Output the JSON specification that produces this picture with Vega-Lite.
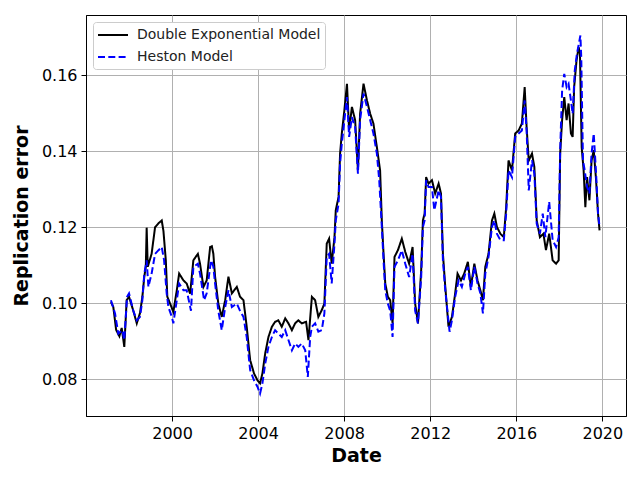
{
  "$schema": "https://vega.github.io/schema/vega-lite/v6.json",
  "background": "white",
  "autosize": {"type": "none"},
  "padding": {"left": 86, "top": 15, "right": 14, "bottom": 64},
  "width": 540,
  "height": 401,
  "config": {
    "font": "DejaVu Sans",
    "view": {"stroke": "black", "strokeWidth": 1},
    "axis": {
      "grid": true, "gridColor": "#b0b0b0", "gridWidth": 1,
      "domainColor": "black", "tickColor": "black", "tickSize": 5,
      "labelFont": "DejaVu Sans", "labelFontSize": 16, "labelColor": "black",
      "titleFont": "DejaVu Sans", "titleFontSize": 19, "titleFontWeight": "bold", "titleColor": "black"
    },
    "legend": {
      "title": null,
      "orient": "top-left",
      "offset": 7,
      "padding": 4.5,
      "fillColor": "white",
      "strokeColor": "#cccccc",
      "cornerRadius": 3,
      "symbolType": "M-2,0H2",
      "symbolSize": 225,
      "symbolStrokeWidth": 2,
      "symbolOffset": 7,
      "labelFontSize": 14,
      "labelFont": "DejaVu Sans",
      "labelColor": "#222222",
      "labelOffset": 15.5,
      "labelLimit": 0,
      "rowPadding": 6
    }
  },
  "data": {
    "values": [
      {"year": 1997.16, "value": 0.1003, "model": "Double Exponential Model"},
      {"year": 1997.27, "value": 0.099, "model": "Double Exponential Model"},
      {"year": 1997.4, "value": 0.093, "model": "Double Exponential Model"},
      {"year": 1997.55, "value": 0.0913, "model": "Double Exponential Model"},
      {"year": 1997.66, "value": 0.0935, "model": "Double Exponential Model"},
      {"year": 1997.78, "value": 0.0885, "model": "Double Exponential Model"},
      {"year": 1997.89, "value": 0.1008, "model": "Double Exponential Model"},
      {"year": 1998.0, "value": 0.1017, "model": "Double Exponential Model"},
      {"year": 1998.2, "value": 0.098, "model": "Double Exponential Model"},
      {"year": 1998.36, "value": 0.0947, "model": "Double Exponential Model"},
      {"year": 1998.51, "value": 0.0974, "model": "Double Exponential Model"},
      {"year": 1998.62, "value": 0.1017, "model": "Double Exponential Model"},
      {"year": 1998.71, "value": 0.107, "model": "Double Exponential Model"},
      {"year": 1998.78, "value": 0.1096, "model": "Double Exponential Model"},
      {"year": 1998.82, "value": 0.1199, "model": "Double Exponential Model"},
      {"year": 1998.87, "value": 0.1096, "model": "Double Exponential Model"},
      {"year": 1999.05, "value": 0.113, "model": "Double Exponential Model"},
      {"year": 1999.21, "value": 0.12, "model": "Double Exponential Model"},
      {"year": 1999.36, "value": 0.121, "model": "Double Exponential Model"},
      {"year": 1999.52, "value": 0.1218, "model": "Double Exponential Model"},
      {"year": 1999.6, "value": 0.119, "model": "Double Exponential Model"},
      {"year": 1999.71, "value": 0.1113, "model": "Double Exponential Model"},
      {"year": 1999.78, "value": 0.1017, "model": "Double Exponential Model"},
      {"year": 1999.91, "value": 0.0999, "model": "Double Exponential Model"},
      {"year": 2000.06, "value": 0.0977, "model": "Double Exponential Model"},
      {"year": 2000.22, "value": 0.1034, "model": "Double Exponential Model"},
      {"year": 2000.33, "value": 0.1078, "model": "Double Exponential Model"},
      {"year": 2000.53, "value": 0.106, "model": "Double Exponential Model"},
      {"year": 2000.68, "value": 0.1052, "model": "Double Exponential Model"},
      {"year": 2000.84, "value": 0.1025, "model": "Double Exponential Model"},
      {"year": 2000.99, "value": 0.1113, "model": "Double Exponential Model"},
      {"year": 2001.2, "value": 0.113, "model": "Double Exponential Model"},
      {"year": 2001.3, "value": 0.1104, "model": "Double Exponential Model"},
      {"year": 2001.46, "value": 0.1043, "model": "Double Exponential Model"},
      {"year": 2001.61, "value": 0.106, "model": "Double Exponential Model"},
      {"year": 2001.77, "value": 0.1148, "model": "Double Exponential Model"},
      {"year": 2001.85, "value": 0.115, "model": "Double Exponential Model"},
      {"year": 2001.92, "value": 0.113, "model": "Double Exponential Model"},
      {"year": 2002.0, "value": 0.107, "model": "Double Exponential Model"},
      {"year": 2002.15, "value": 0.0999, "model": "Double Exponential Model"},
      {"year": 2002.31, "value": 0.0964, "model": "Double Exponential Model"},
      {"year": 2002.47, "value": 0.1008, "model": "Double Exponential Model"},
      {"year": 2002.62, "value": 0.107, "model": "Double Exponential Model"},
      {"year": 2002.78, "value": 0.1026, "model": "Double Exponential Model"},
      {"year": 2003.01, "value": 0.1043, "model": "Double Exponential Model"},
      {"year": 2003.16, "value": 0.1017, "model": "Double Exponential Model"},
      {"year": 2003.32, "value": 0.1008, "model": "Double Exponential Model"},
      {"year": 2003.47, "value": 0.0938, "model": "Double Exponential Model"},
      {"year": 2003.63, "value": 0.085, "model": "Double Exponential Model"},
      {"year": 2003.81, "value": 0.0815, "model": "Double Exponential Model"},
      {"year": 2003.97, "value": 0.0797, "model": "Double Exponential Model"},
      {"year": 2004.09, "value": 0.0789, "model": "Double Exponential Model"},
      {"year": 2004.2, "value": 0.0815, "model": "Double Exponential Model"},
      {"year": 2004.33, "value": 0.0868, "model": "Double Exponential Model"},
      {"year": 2004.48, "value": 0.0911, "model": "Double Exponential Model"},
      {"year": 2004.64, "value": 0.0938, "model": "Double Exponential Model"},
      {"year": 2004.79, "value": 0.0951, "model": "Double Exponential Model"},
      {"year": 2004.94, "value": 0.0955, "model": "Double Exponential Model"},
      {"year": 2005.1, "value": 0.0938, "model": "Double Exponential Model"},
      {"year": 2005.26, "value": 0.096, "model": "Double Exponential Model"},
      {"year": 2005.41, "value": 0.0947, "model": "Double Exponential Model"},
      {"year": 2005.57, "value": 0.0929, "model": "Double Exponential Model"},
      {"year": 2005.72, "value": 0.0947, "model": "Double Exponential Model"},
      {"year": 2005.87, "value": 0.0955, "model": "Double Exponential Model"},
      {"year": 2006.03, "value": 0.0947, "model": "Double Exponential Model"},
      {"year": 2006.23, "value": 0.0951, "model": "Double Exponential Model"},
      {"year": 2006.34, "value": 0.0903, "model": "Double Exponential Model"},
      {"year": 2006.5, "value": 0.1017, "model": "Double Exponential Model"},
      {"year": 2006.65, "value": 0.1008, "model": "Double Exponential Model"},
      {"year": 2006.8, "value": 0.0964, "model": "Double Exponential Model"},
      {"year": 2006.96, "value": 0.0982, "model": "Double Exponential Model"},
      {"year": 2007.08, "value": 0.0999, "model": "Double Exponential Model"},
      {"year": 2007.19, "value": 0.1157, "model": "Double Exponential Model"},
      {"year": 2007.3, "value": 0.117, "model": "Double Exponential Model"},
      {"year": 2007.42, "value": 0.1104, "model": "Double Exponential Model"},
      {"year": 2007.55, "value": 0.1174, "model": "Double Exponential Model"},
      {"year": 2007.61, "value": 0.1245, "model": "Double Exponential Model"},
      {"year": 2007.74, "value": 0.128, "model": "Double Exponential Model"},
      {"year": 2007.81, "value": 0.1394, "model": "Double Exponential Model"},
      {"year": 2007.89, "value": 0.1447, "model": "Double Exponential Model"},
      {"year": 2008.01, "value": 0.1508, "model": "Double Exponential Model"},
      {"year": 2008.13, "value": 0.1578, "model": "Double Exponential Model"},
      {"year": 2008.23, "value": 0.1455, "model": "Double Exponential Model"},
      {"year": 2008.36, "value": 0.1517, "model": "Double Exponential Model"},
      {"year": 2008.51, "value": 0.1482, "model": "Double Exponential Model"},
      {"year": 2008.64, "value": 0.135, "model": "Double Exponential Model"},
      {"year": 2008.74, "value": 0.1499, "model": "Double Exponential Model"},
      {"year": 2008.9, "value": 0.1578, "model": "Double Exponential Model"},
      {"year": 2009.06, "value": 0.1534, "model": "Double Exponential Model"},
      {"year": 2009.21, "value": 0.1499, "model": "Double Exponential Model"},
      {"year": 2009.36, "value": 0.1473, "model": "Double Exponential Model"},
      {"year": 2009.52, "value": 0.1411, "model": "Double Exponential Model"},
      {"year": 2009.67, "value": 0.135, "model": "Double Exponential Model"},
      {"year": 2009.75, "value": 0.1218, "model": "Double Exponential Model"},
      {"year": 2009.83, "value": 0.1131, "model": "Double Exponential Model"},
      {"year": 2009.91, "value": 0.1052, "model": "Double Exponential Model"},
      {"year": 2010.03, "value": 0.1017, "model": "Double Exponential Model"},
      {"year": 2010.14, "value": 0.1008, "model": "Double Exponential Model"},
      {"year": 2010.25, "value": 0.0947, "model": "Double Exponential Model"},
      {"year": 2010.34, "value": 0.1122, "model": "Double Exponential Model"},
      {"year": 2010.5, "value": 0.114, "model": "Double Exponential Model"},
      {"year": 2010.68, "value": 0.117, "model": "Double Exponential Model"},
      {"year": 2010.84, "value": 0.1135, "model": "Double Exponential Model"},
      {"year": 2011.02, "value": 0.1104, "model": "Double Exponential Model"},
      {"year": 2011.18, "value": 0.1148, "model": "Double Exponential Model"},
      {"year": 2011.3, "value": 0.0999, "model": "Double Exponential Model"},
      {"year": 2011.43, "value": 0.0947, "model": "Double Exponential Model"},
      {"year": 2011.58, "value": 0.1087, "model": "Double Exponential Model"},
      {"year": 2011.66, "value": 0.1218, "model": "Double Exponential Model"},
      {"year": 2011.74, "value": 0.1236, "model": "Double Exponential Model"},
      {"year": 2011.81, "value": 0.1332, "model": "Double Exponential Model"},
      {"year": 2011.92, "value": 0.1315, "model": "Double Exponential Model"},
      {"year": 2012.08, "value": 0.1324, "model": "Double Exponential Model"},
      {"year": 2012.23, "value": 0.1289, "model": "Double Exponential Model"},
      {"year": 2012.39, "value": 0.1315, "model": "Double Exponential Model"},
      {"year": 2012.5, "value": 0.1289, "model": "Double Exponential Model"},
      {"year": 2012.59, "value": 0.113, "model": "Double Exponential Model"},
      {"year": 2012.7, "value": 0.1043, "model": "Double Exponential Model"},
      {"year": 2012.85, "value": 0.0938, "model": "Double Exponential Model"},
      {"year": 2013.01, "value": 0.0964, "model": "Double Exponential Model"},
      {"year": 2013.16, "value": 0.1026, "model": "Double Exponential Model"},
      {"year": 2013.27, "value": 0.1078, "model": "Double Exponential Model"},
      {"year": 2013.43, "value": 0.106, "model": "Double Exponential Model"},
      {"year": 2013.58, "value": 0.1078, "model": "Double Exponential Model"},
      {"year": 2013.75, "value": 0.1109, "model": "Double Exponential Model"},
      {"year": 2013.89, "value": 0.1043, "model": "Double Exponential Model"},
      {"year": 2014.05, "value": 0.1104, "model": "Double Exponential Model"},
      {"year": 2014.2, "value": 0.106, "model": "Double Exponential Model"},
      {"year": 2014.33, "value": 0.1034, "model": "Double Exponential Model"},
      {"year": 2014.45, "value": 0.1008, "model": "Double Exponential Model"},
      {"year": 2014.56, "value": 0.1096, "model": "Double Exponential Model"},
      {"year": 2014.71, "value": 0.113, "model": "Double Exponential Model"},
      {"year": 2014.87, "value": 0.1218, "model": "Double Exponential Model"},
      {"year": 2014.98, "value": 0.1236, "model": "Double Exponential Model"},
      {"year": 2015.1, "value": 0.1201, "model": "Double Exponential Model"},
      {"year": 2015.26, "value": 0.1183, "model": "Double Exponential Model"},
      {"year": 2015.42, "value": 0.1174, "model": "Double Exponential Model"},
      {"year": 2015.53, "value": 0.1253, "model": "Double Exponential Model"},
      {"year": 2015.64, "value": 0.1376, "model": "Double Exponential Model"},
      {"year": 2015.8, "value": 0.135, "model": "Double Exponential Model"},
      {"year": 2015.95, "value": 0.1447, "model": "Double Exponential Model"},
      {"year": 2016.11, "value": 0.1455, "model": "Double Exponential Model"},
      {"year": 2016.26, "value": 0.1473, "model": "Double Exponential Model"},
      {"year": 2016.39, "value": 0.1569, "model": "Double Exponential Model"},
      {"year": 2016.48, "value": 0.1464, "model": "Double Exponential Model"},
      {"year": 2016.58, "value": 0.1376, "model": "Double Exponential Model"},
      {"year": 2016.73, "value": 0.1394, "model": "Double Exponential Model"},
      {"year": 2016.84, "value": 0.1359, "model": "Double Exponential Model"},
      {"year": 2016.95, "value": 0.1218, "model": "Double Exponential Model"},
      {"year": 2017.1, "value": 0.1174, "model": "Double Exponential Model"},
      {"year": 2017.26, "value": 0.1183, "model": "Double Exponential Model"},
      {"year": 2017.38, "value": 0.114, "model": "Double Exponential Model"},
      {"year": 2017.53, "value": 0.1183, "model": "Double Exponential Model"},
      {"year": 2017.69, "value": 0.1113, "model": "Double Exponential Model"},
      {"year": 2017.85, "value": 0.1104, "model": "Double Exponential Model"},
      {"year": 2017.97, "value": 0.1113, "model": "Double Exponential Model"},
      {"year": 2018.04, "value": 0.1394, "model": "Double Exponential Model"},
      {"year": 2018.13, "value": 0.1482, "model": "Double Exponential Model"},
      {"year": 2018.23, "value": 0.1543, "model": "Double Exponential Model"},
      {"year": 2018.34, "value": 0.1482, "model": "Double Exponential Model"},
      {"year": 2018.43, "value": 0.1526, "model": "Double Exponential Model"},
      {"year": 2018.54, "value": 0.1447, "model": "Double Exponential Model"},
      {"year": 2018.62, "value": 0.1438, "model": "Double Exponential Model"},
      {"year": 2018.69, "value": 0.1569, "model": "Double Exponential Model"},
      {"year": 2018.8, "value": 0.1639, "model": "Double Exponential Model"},
      {"year": 2018.9, "value": 0.1674, "model": "Double Exponential Model"},
      {"year": 2018.96, "value": 0.1657, "model": "Double Exponential Model"},
      {"year": 2019.04, "value": 0.1411, "model": "Double Exponential Model"},
      {"year": 2019.13, "value": 0.135, "model": "Double Exponential Model"},
      {"year": 2019.21, "value": 0.1253, "model": "Double Exponential Model"},
      {"year": 2019.29, "value": 0.1332, "model": "Double Exponential Model"},
      {"year": 2019.4, "value": 0.1271, "model": "Double Exponential Model"},
      {"year": 2019.5, "value": 0.1376, "model": "Double Exponential Model"},
      {"year": 2019.6, "value": 0.1403, "model": "Double Exponential Model"},
      {"year": 2019.71, "value": 0.1324, "model": "Double Exponential Model"},
      {"year": 2019.8, "value": 0.1236, "model": "Double Exponential Model"},
      {"year": 2019.87, "value": 0.1192, "model": "Double Exponential Model"},
      {"year": 1997.16, "value": 0.1008, "model": "Heston Model"},
      {"year": 1997.35, "value": 0.0973, "model": "Heston Model"},
      {"year": 1997.5, "value": 0.092, "model": "Heston Model"},
      {"year": 1997.69, "value": 0.0929, "model": "Heston Model"},
      {"year": 1997.78, "value": 0.0903, "model": "Heston Model"},
      {"year": 1997.91, "value": 0.1017, "model": "Heston Model"},
      {"year": 1998.0, "value": 0.1026, "model": "Heston Model"},
      {"year": 1998.2, "value": 0.098, "model": "Heston Model"},
      {"year": 1998.36, "value": 0.0955, "model": "Heston Model"},
      {"year": 1998.51, "value": 0.0964, "model": "Heston Model"},
      {"year": 1998.62, "value": 0.1008, "model": "Heston Model"},
      {"year": 1998.71, "value": 0.1078, "model": "Heston Model"},
      {"year": 1998.82, "value": 0.1113, "model": "Heston Model"},
      {"year": 1998.9, "value": 0.1043, "model": "Heston Model"},
      {"year": 1999.05, "value": 0.1078, "model": "Heston Model"},
      {"year": 1999.21, "value": 0.113, "model": "Heston Model"},
      {"year": 1999.36, "value": 0.1139, "model": "Heston Model"},
      {"year": 1999.52, "value": 0.1148, "model": "Heston Model"},
      {"year": 1999.63, "value": 0.1113, "model": "Heston Model"},
      {"year": 1999.75, "value": 0.1026, "model": "Heston Model"},
      {"year": 1999.83, "value": 0.099, "model": "Heston Model"},
      {"year": 1999.99, "value": 0.0964, "model": "Heston Model"},
      {"year": 2000.06, "value": 0.0947, "model": "Heston Model"},
      {"year": 2000.22, "value": 0.1008, "model": "Heston Model"},
      {"year": 2000.33, "value": 0.1052, "model": "Heston Model"},
      {"year": 2000.53, "value": 0.1034, "model": "Heston Model"},
      {"year": 2000.68, "value": 0.1034, "model": "Heston Model"},
      {"year": 2000.88, "value": 0.098, "model": "Heston Model"},
      {"year": 2000.99, "value": 0.1096, "model": "Heston Model"},
      {"year": 2001.2, "value": 0.1104, "model": "Heston Model"},
      {"year": 2001.3, "value": 0.1078, "model": "Heston Model"},
      {"year": 2001.49, "value": 0.1008, "model": "Heston Model"},
      {"year": 2001.61, "value": 0.1026, "model": "Heston Model"},
      {"year": 2001.81, "value": 0.1113, "model": "Heston Model"},
      {"year": 2001.92, "value": 0.1096, "model": "Heston Model"},
      {"year": 2002.0, "value": 0.1052, "model": "Heston Model"},
      {"year": 2002.15, "value": 0.098, "model": "Heston Model"},
      {"year": 2002.31, "value": 0.0929, "model": "Heston Model"},
      {"year": 2002.47, "value": 0.099, "model": "Heston Model"},
      {"year": 2002.62, "value": 0.1034, "model": "Heston Model"},
      {"year": 2002.78, "value": 0.099, "model": "Heston Model"},
      {"year": 2003.01, "value": 0.0999, "model": "Heston Model"},
      {"year": 2003.16, "value": 0.098, "model": "Heston Model"},
      {"year": 2003.32, "value": 0.0964, "model": "Heston Model"},
      {"year": 2003.47, "value": 0.0911, "model": "Heston Model"},
      {"year": 2003.63, "value": 0.0824, "model": "Heston Model"},
      {"year": 2003.81, "value": 0.0797, "model": "Heston Model"},
      {"year": 2003.97, "value": 0.078, "model": "Heston Model"},
      {"year": 2004.09, "value": 0.0762, "model": "Heston Model"},
      {"year": 2004.2, "value": 0.0789, "model": "Heston Model"},
      {"year": 2004.33, "value": 0.0841, "model": "Heston Model"},
      {"year": 2004.48, "value": 0.0885, "model": "Heston Model"},
      {"year": 2004.64, "value": 0.0911, "model": "Heston Model"},
      {"year": 2004.79, "value": 0.0929, "model": "Heston Model"},
      {"year": 2004.94, "value": 0.092, "model": "Heston Model"},
      {"year": 2005.1, "value": 0.0911, "model": "Heston Model"},
      {"year": 2005.26, "value": 0.0929, "model": "Heston Model"},
      {"year": 2005.41, "value": 0.0903, "model": "Heston Model"},
      {"year": 2005.57, "value": 0.0876, "model": "Heston Model"},
      {"year": 2005.72, "value": 0.0894, "model": "Heston Model"},
      {"year": 2005.87, "value": 0.0885, "model": "Heston Model"},
      {"year": 2006.03, "value": 0.0894, "model": "Heston Model"},
      {"year": 2006.19, "value": 0.0876, "model": "Heston Model"},
      {"year": 2006.31, "value": 0.0806, "model": "Heston Model"},
      {"year": 2006.42, "value": 0.0911, "model": "Heston Model"},
      {"year": 2006.5, "value": 0.0938, "model": "Heston Model"},
      {"year": 2006.65, "value": 0.0947, "model": "Heston Model"},
      {"year": 2006.8, "value": 0.0925, "model": "Heston Model"},
      {"year": 2006.96, "value": 0.0929, "model": "Heston Model"},
      {"year": 2007.08, "value": 0.0973, "model": "Heston Model"},
      {"year": 2007.19, "value": 0.1122, "model": "Heston Model"},
      {"year": 2007.3, "value": 0.113, "model": "Heston Model"},
      {"year": 2007.42, "value": 0.1052, "model": "Heston Model"},
      {"year": 2007.55, "value": 0.1157, "model": "Heston Model"},
      {"year": 2007.61, "value": 0.1218, "model": "Heston Model"},
      {"year": 2007.74, "value": 0.1262, "model": "Heston Model"},
      {"year": 2007.81, "value": 0.1368, "model": "Heston Model"},
      {"year": 2007.89, "value": 0.142, "model": "Heston Model"},
      {"year": 2008.01, "value": 0.1482, "model": "Heston Model"},
      {"year": 2008.13, "value": 0.1543, "model": "Heston Model"},
      {"year": 2008.23, "value": 0.1438, "model": "Heston Model"},
      {"year": 2008.36, "value": 0.149, "model": "Heston Model"},
      {"year": 2008.51, "value": 0.1464, "model": "Heston Model"},
      {"year": 2008.64, "value": 0.1341, "model": "Heston Model"},
      {"year": 2008.74, "value": 0.1482, "model": "Heston Model"},
      {"year": 2008.9, "value": 0.1552, "model": "Heston Model"},
      {"year": 2009.06, "value": 0.1517, "model": "Heston Model"},
      {"year": 2009.21, "value": 0.1482, "model": "Heston Model"},
      {"year": 2009.36, "value": 0.1447, "model": "Heston Model"},
      {"year": 2009.52, "value": 0.1394, "model": "Heston Model"},
      {"year": 2009.63, "value": 0.1324, "model": "Heston Model"},
      {"year": 2009.75, "value": 0.1201, "model": "Heston Model"},
      {"year": 2009.83, "value": 0.1113, "model": "Heston Model"},
      {"year": 2009.91, "value": 0.1034, "model": "Heston Model"},
      {"year": 2010.03, "value": 0.0999, "model": "Heston Model"},
      {"year": 2010.14, "value": 0.098, "model": "Heston Model"},
      {"year": 2010.25, "value": 0.0911, "model": "Heston Model"},
      {"year": 2010.34, "value": 0.1096, "model": "Heston Model"},
      {"year": 2010.5, "value": 0.1113, "model": "Heston Model"},
      {"year": 2010.68, "value": 0.1139, "model": "Heston Model"},
      {"year": 2010.84, "value": 0.1104, "model": "Heston Model"},
      {"year": 2011.02, "value": 0.1069, "model": "Heston Model"},
      {"year": 2011.18, "value": 0.113, "model": "Heston Model"},
      {"year": 2011.3, "value": 0.098, "model": "Heston Model"},
      {"year": 2011.43, "value": 0.0947, "model": "Heston Model"},
      {"year": 2011.58, "value": 0.1069, "model": "Heston Model"},
      {"year": 2011.66, "value": 0.1201, "model": "Heston Model"},
      {"year": 2011.74, "value": 0.1218, "model": "Heston Model"},
      {"year": 2011.81, "value": 0.1324, "model": "Heston Model"},
      {"year": 2011.92, "value": 0.1306, "model": "Heston Model"},
      {"year": 2012.08, "value": 0.1306, "model": "Heston Model"},
      {"year": 2012.19, "value": 0.1245, "model": "Heston Model"},
      {"year": 2012.39, "value": 0.1297, "model": "Heston Model"},
      {"year": 2012.5, "value": 0.128, "model": "Heston Model"},
      {"year": 2012.59, "value": 0.1113, "model": "Heston Model"},
      {"year": 2012.7, "value": 0.1034, "model": "Heston Model"},
      {"year": 2012.9, "value": 0.0925, "model": "Heston Model"},
      {"year": 2013.01, "value": 0.0955, "model": "Heston Model"},
      {"year": 2013.16, "value": 0.1017, "model": "Heston Model"},
      {"year": 2013.32, "value": 0.106, "model": "Heston Model"},
      {"year": 2013.47, "value": 0.1043, "model": "Heston Model"},
      {"year": 2013.63, "value": 0.1078, "model": "Heston Model"},
      {"year": 2013.75, "value": 0.1096, "model": "Heston Model"},
      {"year": 2013.89, "value": 0.1034, "model": "Heston Model"},
      {"year": 2014.05, "value": 0.1096, "model": "Heston Model"},
      {"year": 2014.2, "value": 0.1052, "model": "Heston Model"},
      {"year": 2014.33, "value": 0.1026, "model": "Heston Model"},
      {"year": 2014.45, "value": 0.0973, "model": "Heston Model"},
      {"year": 2014.56, "value": 0.1078, "model": "Heston Model"},
      {"year": 2014.71, "value": 0.1122, "model": "Heston Model"},
      {"year": 2014.87, "value": 0.1201, "model": "Heston Model"},
      {"year": 2014.98, "value": 0.1218, "model": "Heston Model"},
      {"year": 2015.1, "value": 0.1183, "model": "Heston Model"},
      {"year": 2015.26, "value": 0.1166, "model": "Heston Model"},
      {"year": 2015.42, "value": 0.1166, "model": "Heston Model"},
      {"year": 2015.53, "value": 0.1236, "model": "Heston Model"},
      {"year": 2015.64, "value": 0.135, "model": "Heston Model"},
      {"year": 2015.8, "value": 0.1332, "model": "Heston Model"},
      {"year": 2015.95, "value": 0.1438, "model": "Heston Model"},
      {"year": 2016.11, "value": 0.1447, "model": "Heston Model"},
      {"year": 2016.26, "value": 0.1455, "model": "Heston Model"},
      {"year": 2016.39, "value": 0.1534, "model": "Heston Model"},
      {"year": 2016.48, "value": 0.1455, "model": "Heston Model"},
      {"year": 2016.58, "value": 0.1297, "model": "Heston Model"},
      {"year": 2016.73, "value": 0.1376, "model": "Heston Model"},
      {"year": 2016.84, "value": 0.1341, "model": "Heston Model"},
      {"year": 2016.95, "value": 0.1209, "model": "Heston Model"},
      {"year": 2017.1, "value": 0.1183, "model": "Heston Model"},
      {"year": 2017.23, "value": 0.1236, "model": "Heston Model"},
      {"year": 2017.35, "value": 0.1174, "model": "Heston Model"},
      {"year": 2017.53, "value": 0.1267, "model": "Heston Model"},
      {"year": 2017.69, "value": 0.1166, "model": "Heston Model"},
      {"year": 2017.85, "value": 0.1148, "model": "Heston Model"},
      {"year": 2017.97, "value": 0.1174, "model": "Heston Model"},
      {"year": 2018.04, "value": 0.1403, "model": "Heston Model"},
      {"year": 2018.13, "value": 0.156, "model": "Heston Model"},
      {"year": 2018.23, "value": 0.1604, "model": "Heston Model"},
      {"year": 2018.34, "value": 0.1569, "model": "Heston Model"},
      {"year": 2018.43, "value": 0.1578, "model": "Heston Model"},
      {"year": 2018.54, "value": 0.1534, "model": "Heston Model"},
      {"year": 2018.62, "value": 0.1499, "model": "Heston Model"},
      {"year": 2018.72, "value": 0.1613, "model": "Heston Model"},
      {"year": 2018.82, "value": 0.1657, "model": "Heston Model"},
      {"year": 2018.98, "value": 0.1705, "model": "Heston Model"},
      {"year": 2019.02, "value": 0.1648, "model": "Heston Model"},
      {"year": 2019.1, "value": 0.1376, "model": "Heston Model"},
      {"year": 2019.18, "value": 0.135, "model": "Heston Model"},
      {"year": 2019.29, "value": 0.1306, "model": "Heston Model"},
      {"year": 2019.4, "value": 0.1289, "model": "Heston Model"},
      {"year": 2019.5, "value": 0.1394, "model": "Heston Model"},
      {"year": 2019.6, "value": 0.1447, "model": "Heston Model"},
      {"year": 2019.71, "value": 0.1341, "model": "Heston Model"},
      {"year": 2019.8, "value": 0.1236, "model": "Heston Model"},
      {"year": 2019.87, "value": 0.1201, "model": "Heston Model"}
    ]
  },
  "mark": {"type": "line", "strokeWidth": 2, "clip": true},
  "encoding": {
    "x": {
      "field": "year",
      "type": "quantitative",
      "title": "Date",
      "scale": {"domain": [1996.0, 2021.1], "nice": false, "zero": false},
      "axis": {"values": [2000, 2004, 2008, 2012, 2016, 2020], "format": "d", "labelPadding": 4, "titlePadding": 5}
    },
    "y": {
      "field": "value",
      "type": "quantitative",
      "title": "Replication error",
      "scale": {"domain": [0.0703, 0.1759], "nice": false, "zero": false},
      "axis": {"values": [0.08, 0.1, 0.12, 0.14, 0.16], "format": ".2f", "labelPadding": 4, "titlePadding": 10}
    },
    "color": {
      "field": "model",
      "type": "nominal",
      "scale": {"domain": ["Double Exponential Model", "Heston Model"], "range": ["black", "blue"]}
    },
    "strokeDash": {
      "field": "model",
      "type": "nominal",
      "scale": {"domain": ["Double Exponential Model", "Heston Model"], "range": [[1, 0], [7, 3.3]]}
    }
  }
}
